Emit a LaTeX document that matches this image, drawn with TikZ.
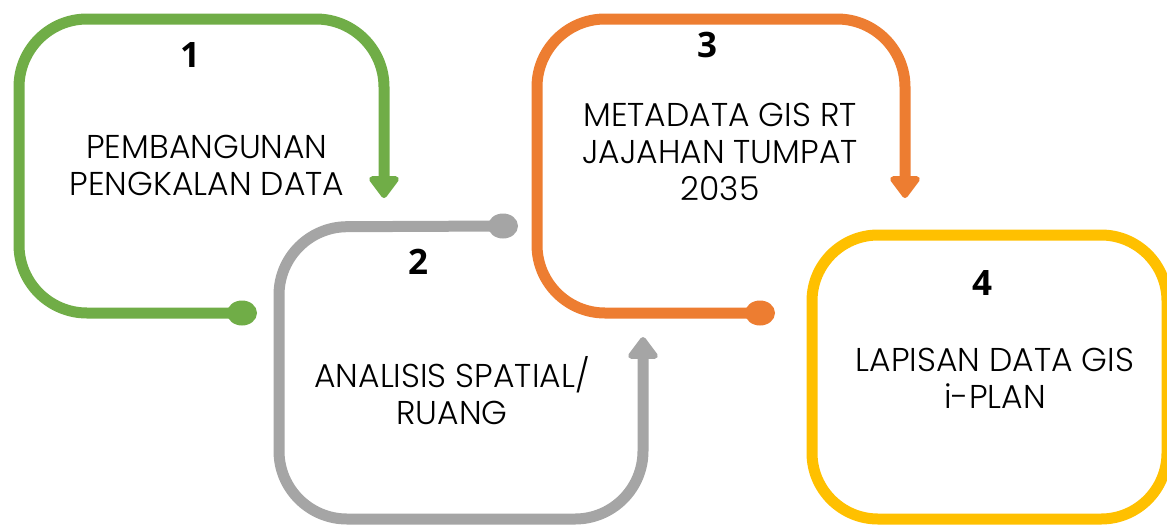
\documentclass[tikz,border=0pt]{standalone}
\usepackage{fontspec}
\usetikzlibrary{arrows.meta,shapes.geometric}
\IfFontExistsTF{Poppins Light}
  {\newfontfamily\lblfont{Poppins Light}}
  {\newfontfamily\lblfont{Poppins}}
\newfontfamily\numfont{Open Sans}
\definecolor{stepgreen}{HTML}{70AD47}
\definecolor{stepgray}{HTML}{A5A5A5}
\definecolor{steporange}{HTML}{ED7D31}
\definecolor{stepyellow}{HTML}{FFC000}
\tikzset{
  loopline/.style={line width=11pt,line cap=butt,rounded corners=68pt,
    -{Triangle[width=34pt,length=24pt,round]}},
  loopbox/.style={line width=11pt,rounded corners=66pt},
  dotend/.style={ellipse,fill=#1,inner sep=0pt,minimum width=30pt,minimum height=25pt},
  lbl/.style={font=\lblfont\fontsize{33}{37}\selectfont,align=center,inner sep=0pt},
  num/.style={font=\numfont\bfseries\fontsize{35}{40}\selectfont,inner sep=0pt}
}
\begin{document}
\begin{tikzpicture}[x=1pt,y=-1pt]
\useasboundingbox (0,0) rectangle (1167,531);
\clip (0,0) rectangle (1167,531);
% step 1
\node[dotend=stepgreen] (dot1) at (242,313) {};
\coordinate (tip1) at (384,198);
\draw[loopline,stepgreen] (dot1.center) -- (19,313) -- (19,19) -- (384,19) -- (tip1);
\node[num] (n1) at (190,55) {1};
\node[lbl] (t1) at (207,165) {PEMBANGUNAN\\PENGKALAN DATA};
% step 2
\node[dotend=stepgray] (dot2) at (503,226) {};
\coordinate (tip2) at (643,337);
\draw[loopline,stepgray] (dot2.center) -- (279,227) -- (279,519) -- (643,519) -- (tip2);
\node[num] (n2) at (418,262) {2};
\node[lbl] (t2) at (452,391) {ANALISIS SPATIAL/\\RUANG};
% step 3
\node[dotend=steporange] (dot3) at (760,313) {};
\coordinate (tip3) at (905,198);
\draw[loopline,steporange] (dot3.center) -- (537,313) -- (537,19) -- (905,19) -- (tip3);
\node[num] (n3) at (707,45) {3};
\node[lbl] (t3) at (720,152) {METADATA GIS RT\\JAJAHAN TUMPAT\\2035};
% step 4
\draw[loopbox,stepyellow] (812,235) rectangle (1167,519);
\node[num] (n4) at (982,283) {4};
\node[lbl] (t4) at (995,378) {LAPISAN DATA GIS\\i-PLAN};
\end{tikzpicture}
\end{document}
